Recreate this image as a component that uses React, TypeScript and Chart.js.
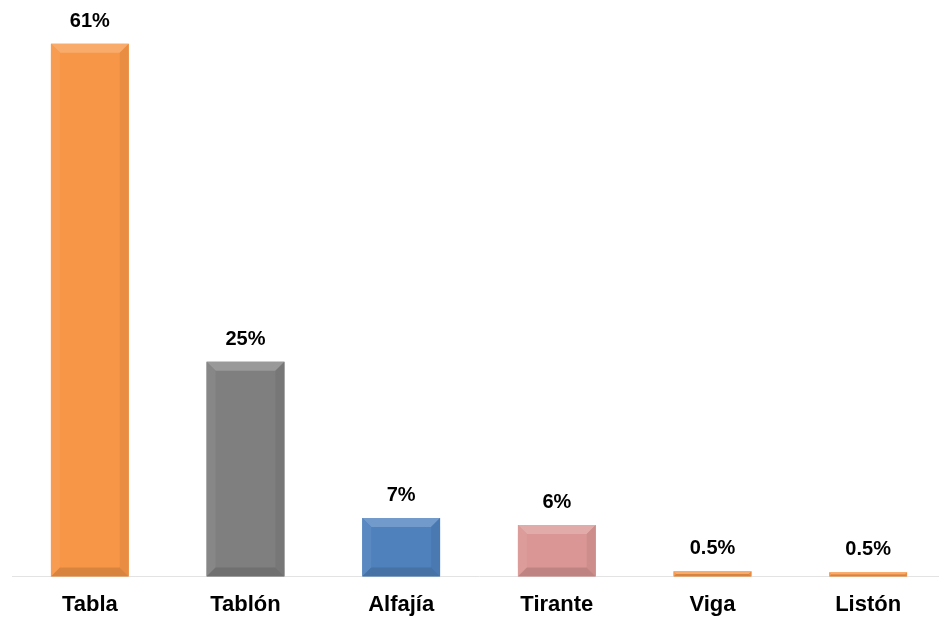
import React, { useEffect, useRef } from "react";
import { Chart, registerables } from "chart.js";

Chart.register(...registerables);

const categories = ["Tabla", "Tablón", "Alfajía", "Tirante", "Viga", "Listón"];
const values = [61, 24.6, 6.7, 5.9, 0.6, 0.5];
const valueLabels = ["61%", "25%", "7%", "6%", "0.5%", "0.5%"];
const barColors = ["#F79646", "#7F7F7F", "#4F81BD", "#D99694", "#F79646", "#F79646"];

function shade(hex: string, amt: number): string {
  const n = parseInt(hex.slice(1), 16);
  let r = (n >> 16) & 255, g = (n >> 8) & 255, b = n & 255;
  const f = (c: number) => Math.max(0, Math.min(255, Math.round(amt > 0 ? c + (255 - c) * amt : c * (1 + amt))));
  return `rgb(${f(r)},${f(g)},${f(b)})`;
}

const bevelPlugin = {
  id: "bevel",
  afterDatasetsDraw(chart: any) {
    const ctx = chart.ctx;
    const meta = chart.getDatasetMeta(0);
    meta.data.forEach((bar: any, i: number) => {
      const { x, y, base, width } = bar.getProps(["x", "y", "base", "width"], true);
      const l = x - width / 2, r = x + width / 2, t = y, b = base;
      const h = b - t;
      const s = Math.min(9, h / 2, width / 2);
      const c = barColors[i];
      ctx.save();
      ctx.fillStyle = shade(c, 0.2);
      ctx.beginPath();
      ctx.moveTo(l, t); ctx.lineTo(r, t); ctx.lineTo(r - s, t + s); ctx.lineTo(l + s, t + s); ctx.closePath(); ctx.fill();
      ctx.fillStyle = shade(c, 0.06);
      ctx.beginPath();
      ctx.moveTo(l, t); ctx.lineTo(l + s, t + s); ctx.lineTo(l + s, b - s); ctx.lineTo(l, b); ctx.closePath(); ctx.fill();
      ctx.fillStyle = shade(c, -0.06);
      ctx.beginPath();
      ctx.moveTo(r, t); ctx.lineTo(r - s, t + s); ctx.lineTo(r - s, b - s); ctx.lineTo(r, b); ctx.closePath(); ctx.fill();
      ctx.fillStyle = shade(c, -0.12);
      ctx.beginPath();
      ctx.moveTo(l, b); ctx.lineTo(r, b); ctx.lineTo(r - s, b - s); ctx.lineTo(l + s, b - s); ctx.closePath(); ctx.fill();
      ctx.fillStyle = "#000";
      ctx.font = "bold 20px 'Liberation Sans', Arial, sans-serif";
      ctx.textAlign = "center";
      ctx.textBaseline = "middle";
      ctx.fillText(valueLabels[i], x, t - 22.5);
      ctx.restore();
    });
  },
};

export default function App() {
  const ref = useRef<HTMLCanvasElement>(null);
  useEffect(() => {
    if (!ref.current) return;
    const chart = new Chart(ref.current, {
      type: "bar",
      data: {
        labels: categories,
        datasets: [
          {
            data: values,
            backgroundColor: barColors,
            borderWidth: 0,
            barPercentage: 0.5,
            categoryPercentage: 1,
          },
        ],
      },
      options: {
        animation: false,
        responsive: false,
        layout: { padding: { left: 12, right: 0, top: 0, bottom: 0 } },
        plugins: { legend: { display: false }, tooltip: { enabled: false } },
        scales: {
          x: {
            grid: { display: false, drawTicks: false },
            border: { display: true, color: "#e3e3e3", width: 1 },
            ticks: {
              color: "#000",
              padding: 15,
              font: { family: "'Liberation Sans', Arial, sans-serif", size: 22, weight: "bold" },
            },
          },
          y: { display: false, min: 0, max: 66 },
        },
      },
      plugins: [bevelPlugin],
    });
    return () => chart.destroy();
  }, []);
  return (
    <div style={{ position: "fixed", left: 0, top: 0, width: 939, height: 618, overflow: "hidden", background: "#fff" }}>
      <canvas ref={ref} width={946} height={633} style={{ display: "block" }} />
    </div>
  );
}
